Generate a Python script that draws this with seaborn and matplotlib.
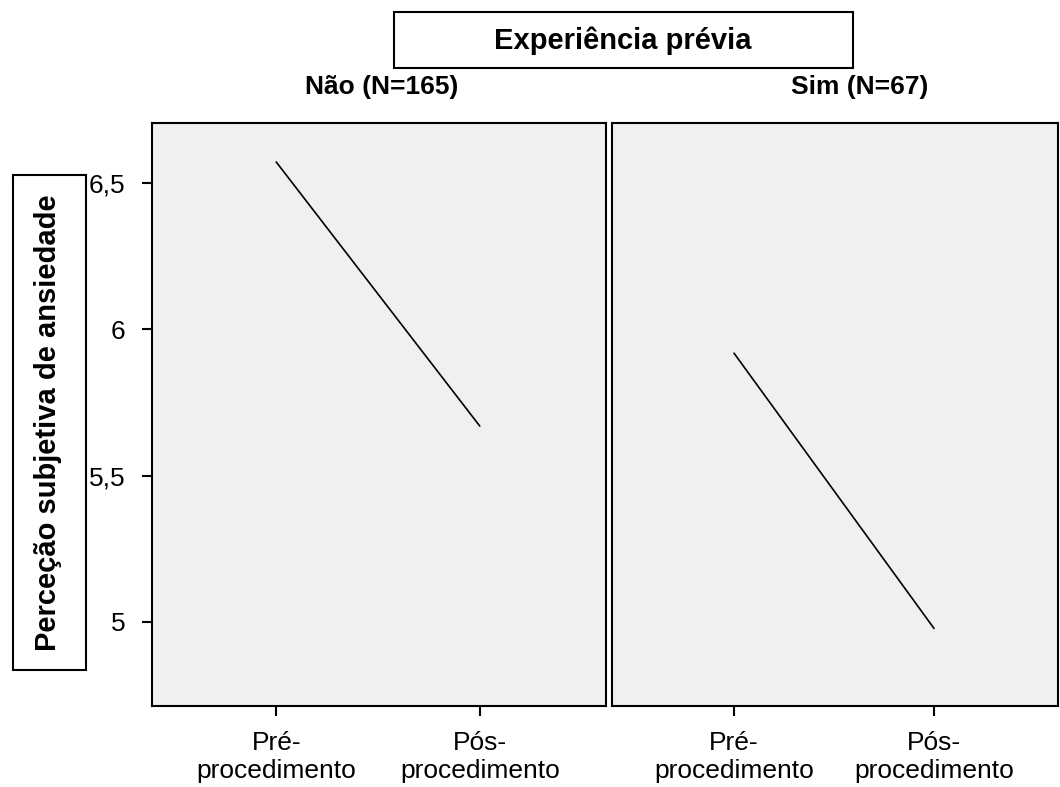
import pandas as pd
import numpy as np
import matplotlib.pyplot as plt
import seaborn as sns
from matplotlib.patches import Rectangle

# data
momentos = ['Pré-\nprocedimento', 'Pós-\nprocedimento']
grupos = ['Não (N=165)', 'Sim (N=67)']
media_nao = [6.571, 5.669]
media_sim = [5.918, 4.978]
ytick_vals = [5, 5.5, 6, 6.5]
ytick_labels = ['5', '5,5', '6', '6,5']

df = pd.DataFrame({
    'momento': momentos * 2,
    'grupo': [grupos[0]] * 2 + [grupos[1]] * 2,
    'ansiedade': media_nao + media_sim,
})

sns.set_style('white')
plt.rcParams['font.family'] = ['Liberation Sans', 'DejaVu Sans']
plt.rcParams['text.color'] = 'black'
plt.rcParams['xtick.color'] = 'black'
plt.rcParams['ytick.color'] = 'black'

fig = plt.figure(figsize=(10.6, 7.87), dpi=100)
W, H = 1060, 787
axes = [
    fig.add_axes([152 / W, 1 - 706 / H, (606 - 152) / W, (706 - 123) / H]),
    fig.add_axes([612 / W, 1 - 706 / H, (1058 - 612) / W, (706 - 123) / H]),
]

for ax, g in zip(axes, grupos):
    sub = df[df['grupo'] == g]
    sns.lineplot(data=sub, x='momento', y='ansiedade', ax=ax, color='black',
                 linewidth=1.2, sort=False, legend=False)
    ax.set_facecolor('#f0f0f0')
    ax.set_xlim(-0.61, 1.62)
    ax.set_ylim(4.713, 6.704)
    ax.set_xlabel('')
    ax.set_ylabel('')
    for s in ax.spines.values():
        s.set_color('black')
        s.set_linewidth(1.5)
    ax.tick_params(axis='x', direction='out', length=7, width=1.5, labelsize=19,
                   pad=11, bottom=True)
    ax.set_xticks([0, 1])
    ax.set_xticklabels(momentos, linespacing=1.2)

axes[0].set_yticks(ytick_vals)
axes[0].set_yticklabels(ytick_labels)
axes[0].tick_params(axis='y', direction='out', length=7, width=1.5, labelsize=19,
                    left=True, pad=12)
axes[1].set_yticks([])

# column titles
fig.text(382 / W, 1 - 87 / H, grupos[0], ha='center', va='center',
         fontsize=19, fontweight='bold')
fig.text(860 / W, 1 - 87 / H, grupos[1], ha='center', va='center',
         fontsize=19, fontweight='bold')

# boxed title on top
fig.patches.append(Rectangle((394 / W, 1 - 68 / H), (853 - 394) / W, (68 - 12) / H,
                             transform=fig.transFigure, fill=False,
                             edgecolor='black', linewidth=1.5))
fig.text(623 / W, 1 - 41 / H, 'Experiência prévia', ha='center', va='center',
         fontsize=21, fontweight='bold')

# boxed y label
fig.patches.append(Rectangle((13 / W, 1 - 670 / H), (86 - 13) / W, (670 - 175) / H,
                             transform=fig.transFigure, fill=False,
                             edgecolor='black', linewidth=1.5))
fig.text(48 / W, 1 - 423 / H, 'Perceção subjetiva de ansiedade', ha='center',
         va='center', rotation=90, fontsize=21, fontweight='bold')

fig.savefig('out.png', dpi=100, facecolor='white')
